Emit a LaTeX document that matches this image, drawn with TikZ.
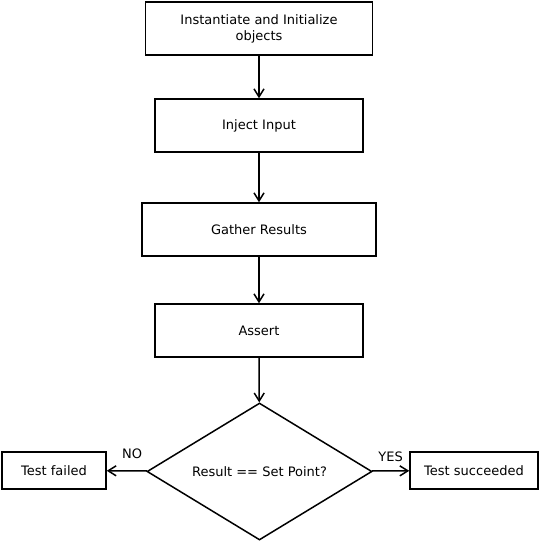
\documentclass[tikz,border=0pt]{standalone}
\usepackage{fontspec}
\setmainfont{DejaVu Sans}
\usetikzlibrary{arrows.meta, shapes.geometric}

\begin{document}
\begin{tikzpicture}[x=1pt, y=-1pt, >={Straight Barb[length=8pt,width=10pt]}, line width=1.5pt,
	every node/.style={font=\fontsize{13}{16}\selectfont},
	box/.style={draw, minimum height=53pt, inner sep=0pt, align=center},
	outcome/.style={draw, minimum height=37pt, inner sep=0pt},
	decision/.style={draw, diamond, aspect=1.64, minimum width=225pt, minimum height=137pt, inner sep=0pt}]
	\useasboundingbox (0,0) rectangle (539,542);
	%%% Passi
	\node[box, minimum width=227pt] (init) at (259,28.5) {Instantiate and Initialize\\objects};
	\node[box, minimum width=208pt] (inject) at (259,125.5) {Inject Input};
	\node[box, minimum width=234pt] (gather) at (259,229.5) {Gather Results};
	\node[box, minimum width=208pt] (assert) at (259,330.5) {Assert};
	%%% Decisione
	\node[decision] (check) at (259.5,471.5) {Result == Set Point?};
	\node[outcome, minimum width=104pt] (failed) at (54,470.5) {Test failed};
	\node[outcome, minimum width=128pt] (passed) at (474,470.5) {Test succeeded};
	%%% Frecce
	\draw[->] (init) -- (inject);
	\draw[->] (inject) -- (gather);
	\draw[->] (gather) -- (assert);
	\draw[->] (assert) -- (check);
	\draw[->] (check) -- (failed) node [pos = 0.37, above = 8pt] (no) {NO};
	\draw[->] (check) -- (passed) node [pos = 0.5, above = 5pt] (yes) {YES};
\end{tikzpicture}
\end{document}
